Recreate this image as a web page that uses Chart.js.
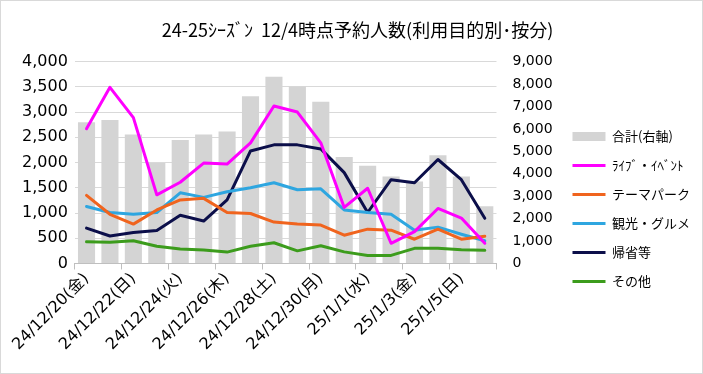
<!DOCTYPE html>
<html>
<head>
<meta charset="utf-8">
<script src="https://cdn.jsdelivr.net/npm/chart.js@4"></script>
<style>
  html, body { margin: 0; padding: 0; background: #fff; }
  #wrap { width: 703px; height: 374px; }
</style>
</head>
<body>
<div id="wrap"><canvas id="resvChart" width="703" height="374"></canvas></div>
<script>
// categories (every other one is labelled on the axis)
const dates = [
  '24/12/20(金)', '24/12/21(土)', '24/12/22(日)', '24/12/23(月)', '24/12/24(火)', '24/12/25(水)',
  '24/12/26(木)', '24/12/27(金)', '24/12/28(土)', '24/12/29(日)', '24/12/30(月)', '24/12/31(火)',
  '25/1/1(水)', '25/1/2(木)', '25/1/3(金)', '25/1/4(土)', '25/1/5(日)', '25/1/6(月)'
];

// right axis: total
const total = [6300, 6400, 5750, 4480, 5500, 5750, 5880, 7450, 8330, 7880, 7210, 4750, 4360, 3880, 3660, 4820, 3880, 2550];

// left axis: by purpose
const liveEvent = [2670, 3490, 2890, 1360, 1610, 1990, 1970, 2390, 3120, 3000, 2390, 1110, 1490, 400, 630, 1090, 900, 400];
const themePark = [1350, 975, 780, 1060, 1260, 1290, 1010, 990, 820, 780, 760, 560, 680, 660, 480, 680, 480, 540];
const sightseeing = [1130, 1010, 975, 1010, 1400, 1310, 1420, 1500, 1600, 1460, 1480, 1060, 1010, 975, 660, 720, 580, 450];
const homecoming = [700, 545, 615, 655, 955, 840, 1260, 2230, 2350, 2350, 2270, 1800, 1010, 1660, 1600, 2060, 1660, 895];
const others = [430, 420, 450, 340, 285, 265, 225, 340, 410, 250, 350, 230, 160, 160, 300, 300, 270, 260];

const leftTicks = { min: 0, max: 4000, step: 500 };
const rightTicks = { min: 0, max: 9000, step: 1000 };

const numFont = "'DejaVu Sans', 'Noto Sans CJK JP', sans-serif";
const jpFont = "'Noto Sans CJK JP', 'DejaVu Sans', sans-serif";

// white background + thin outer frame
const frame = {
  id: 'frame',
  beforeDraw(chart) {
    const c = chart.ctx;
    c.save();
    c.fillStyle = '#fff';
    c.fillRect(0, 0, chart.width, chart.height);
    c.restore();
  },
  afterDraw(chart) {
    const c = chart.ctx;
    c.save();
    c.strokeStyle = '#d9d9d9';
    c.lineWidth = 1;
    c.strokeRect(0.5, 0.5, chart.width - 1, chart.height - 1);
    c.restore();
  }
};

// the layout caps a side legend at a fraction of the width; let it take what it needs,
// and drop the item column a little lower like the original
const wideLegend = {
  id: 'wideLegend',
  beforeLayout(chart) {
    const lg = chart.legend;
    if (lg && !lg._wide) {
      const fit = lg.fit;
      lg.fit = function () {
        this.maxWidth = 220;
        fit.call(this);
      };
      lg._wide = true;
    }
  },
  afterLayout(chart) {
    const lg = chart.legend;
    if (lg) {
      lg.top += 32;
      lg.bottom += 32;
    }
  }
};

function lineSet(label, data, color) {
  return {
    type: 'line',
    label: label,
    data: data,
    borderColor: color,
    backgroundColor: color,
    borderWidth: 3,
    pointRadius: 0,
    pointHoverRadius: 0,
    tension: 0,
    borderJoinStyle: 'round',
    borderCapStyle: 'round',
    yAxisID: 'y',
    order: 1
  };
}

const ctx = document.getElementById('resvChart').getContext('2d');
new Chart(ctx, {
  type: 'bar',
  data: {
    labels: dates,
    datasets: [
      {
        type: 'bar',
        label: '合計(右軸)',
        data: total,
        backgroundColor: '#d4d4d4',
        borderWidth: 0,
        barPercentage: 0.73,
        categoryPercentage: 1,
        yAxisID: 'y1',
        order: 2
      },
      lineSet('ﾗｲﾌﾞ・ｲﾍﾞﾝﾄ', liveEvent, '#ff00ff'),
      lineSet('テーマパーク', themePark, '#f0641e'),
      lineSet('観光・グルメ', sightseeing, '#2ea6e0'),
      lineSet('帰省等', homecoming, '#0c0f4a'),
      lineSet('その他', others, '#3c9c1c')
    ]
  },
  options: {
    responsive: false,
    animation: false,
    layout: { padding: { left: 15, right: 3, top: 0, bottom: 20 } },
    plugins: {
      title: {
        display: true,
        text: '24-25ｼｰｽﾞﾝ  12/4時点予約人数(利用目的別･按分)',
        color: '#000',
        font: { family: jpFont, size: 18, weight: 'normal' },
        padding: { top: 19, bottom: 21 }
      },
      legend: {
        position: 'right',
        labels: {
          color: '#000',
          font: { family: jpFont, size: 13 },
          usePointStyle: true,
          pointStyleWidth: 33,
          boxHeight: 9,
          padding: 16,
          sort: (a, b) => a.datasetIndex - b.datasetIndex,
          generateLabels(chart) {
            const items = Chart.defaults.plugins.legend.labels.generateLabels(chart);
            items.forEach(it => {
              it.pointStyle = it.datasetIndex === 0 ? 'rect' : 'line';
            });
            return items;
          }
        }
      },
      tooltip: { enabled: false }
    },
    scales: {
      x: {
        offset: true,
        grid: {
          offset: true,
          drawOnChartArea: false,
          drawTicks: true,
          tickLength: 6,
          color: c => (c.index === undefined || c.index % 2 === 0) ? '#bfbfbf' : 'rgba(0,0,0,0)'
        },
        border: { display: true, color: '#bfbfbf' },
        ticks: {
          autoSkip: false,
          maxRotation: 45,
          minRotation: 45,
          color: '#000',
          font: { family: numFont, size: 16 },
          padding: 0,
          callback: (v, i) => i % 2 === 0 ? dates[i] : ''
        }
      },
      y: {
        position: 'left',
        min: leftTicks.min,
        max: leftTicks.max,
        grid: { color: '#d9d9d9', drawTicks: false },
        border: { display: false },
        ticks: {
          stepSize: leftTicks.step,
          color: '#000',
          padding: 7,
          font: { family: numFont, size: 16 }
        }
      },
      y1: {
        position: 'right',
        min: rightTicks.min,
        max: rightTicks.max,
        grid: { drawOnChartArea: false, drawTicks: false },
        border: { display: false },
        afterFit: s => { s.width = 60; },
        ticks: {
          stepSize: rightTicks.step,
          color: '#000',
          padding: 16,
          font: { family: numFont, size: 14 }
        }
      }
    }
  },
  plugins: [frame, wideLegend]
});
</script>
</body>
</html>
